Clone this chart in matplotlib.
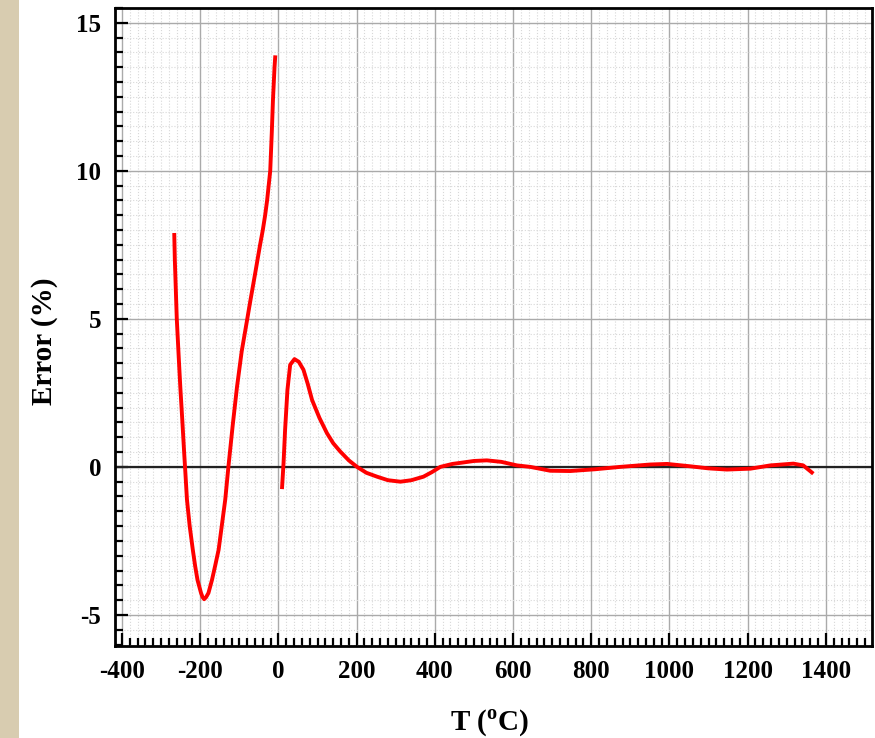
import numpy as np
import matplotlib
matplotlib.use('Agg')
import matplotlib.pyplot as plt
from matplotlib.patches import Rectangle
from matplotlib.ticker import MultipleLocator

plt.rcParams['font.family'] = ['Liberation Serif', 'DejaVu Serif']
plt.rcParams['font.weight'] = 'bold'
plt.rcParams['axes.unicode_minus'] = False
plt.rcParams['mathtext.fontset'] = 'custom'
plt.rcParams['mathtext.rm'] = 'Liberation Serif:bold'

# low temperature branch (T in degC, error in %)
t_low = [-266.5, -265, -260, -255, -251, -246, -241, -238, -234, -227, -219, -213,
         -207, -198, -194, -190, -185, -179, -170, -162, -153, -145, -136, -128,
         -117, -106, -94, -81, -72, -60, -47, -40, -34, -29, -25, -21, -17, -14,
         -10, -8]
err_low = [7.9, 7.0, 5.0, 3.7, 2.7, 1.6, 0.45, -0.2, -1.1, -2.0, -2.8, -3.35,
           -3.82, -4.26, -4.4, -4.47, -4.4, -4.26, -3.82, -3.35, -2.8, -2.0, -1.1,
           0.0, 1.4, 2.7, 3.9, 4.9, 5.6, 6.5, 7.5, 8.0, 8.5, 9.0, 9.5, 10.0, 11.3,
           12.4, 13.5, 13.9]

# high temperature branch
t_high = [9, 13, 17, 23, 30, 41, 52, 64, 75, 86, 105, 124, 140, 158, 180, 201,
          225, 252, 280, 312, 340, 371, 392, 414, 445, 473, 500, 533, 570, 610,
          644, 695, 746, 810, 874, 951, 994, 1053, 1100, 1147, 1207, 1258, 1317,
          1342, 1368]
err_high = [-0.75, 0.12, 1.25, 2.6, 3.45, 3.64, 3.55, 3.28, 2.8, 2.26, 1.65, 1.14,
            0.8, 0.52, 0.22, 0.0, -0.2, -0.33, -0.45, -0.5, -0.45, -0.33, -0.18,
            0.0, 0.1, 0.15, 0.2, 0.22, 0.17, 0.05, 0.0, -0.13, -0.14, -0.08, 0.0,
            0.08, 0.1, 0.02, -0.05, -0.09, -0.06, 0.05, 0.11, 0.05, -0.23]

fig = plt.figure(figsize=(8.75, 7.38), dpi=100)
fig.patches.append(Rectangle((0, 0), 19 / 875, 1, transform=fig.transFigure,
                             facecolor='#d8ccb0', edgecolor='none', zorder=0))
ax = fig.add_axes([115 / 875, 1 - 646 / 738, 757 / 875, 638 / 738])

ax.set_xlim(-418, 1518)
ax.set_ylim(-6.05, 15.5)
ax.xaxis.set_major_locator(MultipleLocator(200))
ax.xaxis.set_minor_locator(MultipleLocator(20))
ax.yaxis.set_major_locator(MultipleLocator(5))
ax.yaxis.set_minor_locator(MultipleLocator(0.5))

ax.grid(which='major', color='#aaaaaa', linewidth=1.0)
ax.grid(which='minor', color='#d8d8d8', linewidth=0.8, linestyle=':')
ax.set_axisbelow(True)

ax.axhline(0, color='#222222', linewidth=1.6, zorder=2)
ax.plot(t_low, err_low, color='#ff0000', linewidth=2.8, zorder=3,
        solid_joinstyle='round', solid_capstyle='butt')
ax.plot(t_high, err_high, color='#ff0000', linewidth=2.8, zorder=3,
        solid_joinstyle='round', solid_capstyle='butt')

for s in ax.spines.values():
    s.set_linewidth(2.0)
ax.tick_params(which='both', direction='in', top=False, right=False, width=1.6,
               labelsize=18, pad=10)
ax.tick_params(which='major', length=9.5)
ax.tick_params(which='minor', length=5.8)
for lab in ax.get_xticklabels() + ax.get_yticklabels():
    lab.set_fontweight('bold')

ax.set_xlabel(r'T ($^{\rm o}$C)', fontsize=21, fontweight='bold')
ax.set_ylabel('Error (%)', fontsize=21, fontweight='bold')
ax.xaxis.set_label_coords(0.495, -0.097)
ax.yaxis.set_label_coords(-0.075, 0.478)

fig.savefig('out.png', dpi=100)
